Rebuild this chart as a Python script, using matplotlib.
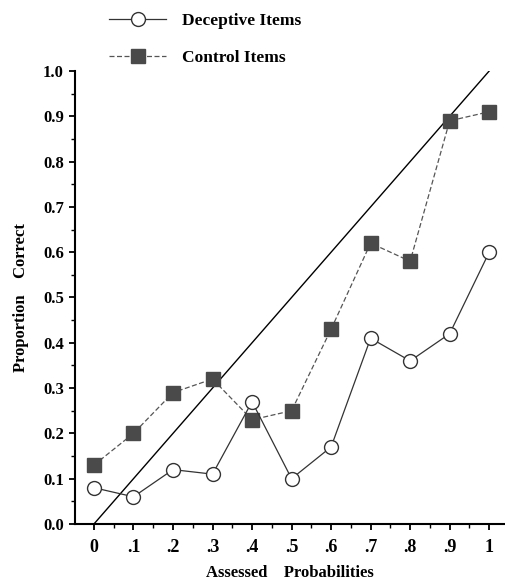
import matplotlib

matplotlib.use("Agg")
import matplotlib.pyplot as plt
from matplotlib.lines import Line2D
from matplotlib.ticker import MultipleLocator

assessed = [0.0, 0.1, 0.2, 0.3, 0.4, 0.5, 0.6, 0.7, 0.8, 0.9, 1.0]
x_ticklabels = ["0", ".1", ".2", ".3", ".4", ".5", ".6", ".7", ".8", ".9", "1"]
deceptive = [0.08, 0.06, 0.12, 0.11, 0.27, 0.10, 0.17, 0.41, 0.36, 0.42, 0.60]
control = [0.13, 0.20, 0.29, 0.32, 0.23, 0.25, 0.43, 0.62, 0.58, 0.89, 0.91]

plt.rcParams["font.family"] = ["Liberation Serif", "DejaVu Serif"]
plt.rcParams["font.weight"] = "bold"

fig = plt.figure(figsize=(5.05, 5.8), dpi=100)
ax = fig.add_axes([0.1485, 0.0966, 0.8515, 0.781])

ax.plot([0, 1], [0, 1], color="black", linewidth=1.0)
ax.plot(assessed, control, color="#555555", linestyle=(0, (4, 2)), linewidth=0.9,
        marker="s", markersize=10, markerfacecolor="#4a4a4a", markeredgecolor="#4a4a4a")
ax.plot(assessed, deceptive, color="#333333", linestyle="-", linewidth=0.9,
        marker="o", markersize=10, markerfacecolor="white", markeredgecolor="#333333",
        markeredgewidth=1.0)

ax.set_xlim(-0.048, 1.04)
ax.set_ylim(0, 1.0)
ax.spines["top"].set_visible(False)
ax.spines["right"].set_visible(False)
ax.spines["left"].set_linewidth(1.5)
ax.spines["bottom"].set_linewidth(1.5)
ax.spines["left"].set_bounds(0, 1.0)

ax.set_xticks(assessed)
ax.set_xticklabels(x_ticklabels, fontsize=13, fontweight="bold")
ax.xaxis.set_minor_locator(MultipleLocator(0.05))
ax.yaxis.set_major_locator(MultipleLocator(0.1))
ax.yaxis.set_minor_locator(MultipleLocator(0.05))
ax.set_yticklabels([f"{v:.1f}" for v in ax.get_yticks()], fontsize=12, fontweight="bold")
ax.tick_params(axis="both", which="major", direction="out", length=4, width=1.3, pad=4)
ax.tick_params(axis="both", which="minor", direction="out", length=3, width=1.0)
ax.tick_params(axis="x", pad=7)

ax.set_xlabel("Assessed    Probabilities", fontsize=12, fontweight="bold", labelpad=6)
ax.set_ylabel("Proportion    Correct", fontsize=12, fontweight="bold", labelpad=10)

handles = [
    Line2D([], [], color="#333333", linewidth=0.9, marker="o", markersize=10,
           markerfacecolor="white", markeredgecolor="#333333"),
    Line2D([], [], color="#555555", linestyle=(0, (4, 2)), linewidth=0.9, marker="s",
           markersize=10, markerfacecolor="#4a4a4a", markeredgecolor="#4a4a4a"),
]
fig.legend(handles, ["Deceptive Items", "Control Items"], loc="upper left",
           bbox_to_anchor=(0.185, 1.005), frameon=False, fontsize=12.5,
           handlelength=3.3, labelspacing=1.2, handletextpad=0.9)

fig.savefig("out.png", dpi=100)
